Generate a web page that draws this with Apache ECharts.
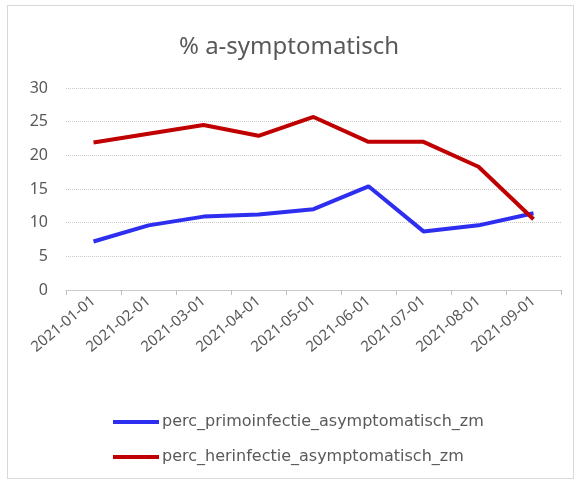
<!DOCTYPE html>
<html>
<head>
<meta charset="utf-8">
<script src="https://cdn.jsdelivr.net/npm/echarts@6/dist/echarts.min.js"></script>
<style>
  body { margin: 0; background: #fff; }
  #chart { position: absolute; left: 0; top: 0; width: 578px; height: 482px; }
  #frame { position: absolute; left: 7px; top: 5px; width: 565px; height: 472px;
           border: 1px solid #d9d9d9; pointer-events: none; }
</style>
</head>
<body>
<div id="chart"></div>
<div id="frame"></div>
<script>
var months = ['2021-01-01', '2021-02-01', '2021-03-01', '2021-04-01', '2021-05-01',
              '2021-06-01', '2021-07-01', '2021-08-01', '2021-09-01'];
var primo = [7.2, 9.6, 10.9, 11.2, 12.0, 15.4, 8.7, 9.6, 11.4];
var herinf = [21.9, 23.2, 24.5, 22.9, 25.7, 22.0, 22.0, 18.3, 10.5];

var grey = '#595959';
var font = 'Noto Sans';

var chart = echarts.init(document.getElementById('chart'));
chart.setOption({
  animation: false,
  title: {
    text: '% a-symptomatisch',
    left: 'center',
    top: 30,
    textStyle: { color: grey, fontSize: 24, fontWeight: 'normal', fontFamily: font }
  },
  legend: {
    orient: 'vertical',
    left: 108,
    top: 409,
    itemWidth: 46,
    itemHeight: 4,
    itemGap: 19,
    icon: 'rect',
    textStyle: { color: grey, fontSize: 16, fontFamily: 'DejaVu Sans', padding: [0, 0, 0, -2] },
    data: ['perc_primoinfectie_asymptomatisch_zm', 'perc_herinfectie_asymptomatisch_zm']
  },
  grid: { left: 66, right: 17, top: 88, bottom: 192 },
  xAxis: {
    type: 'category',
    data: months,
    boundaryGap: true,
    axisLine: { lineStyle: { color: '#bfbfbf', type: 'dotted' } },
    axisTick: { show: true, length: 5, lineStyle: { color: '#bfbfbf' } },
    axisLabel: { rotate: 40, color: grey, fontSize: 15, fontFamily: font, margin: 9, interval: 0 }
  },
  yAxis: {
    type: 'value',
    min: 0,
    max: 30,
    interval: 5,
    axisLine: { show: false },
    axisTick: { show: false },
    axisLabel: { color: grey, fontSize: 16, fontFamily: font, margin: 18 },
    splitLine: { lineStyle: { color: '#c8c8c8', type: 'dotted' } }
  },
  series: [
    {
      name: 'perc_primoinfectie_asymptomatisch_zm',
      type: 'line',
      data: primo,
      symbol: 'none',
      color: '#2e2ef0',
      lineStyle: { width: 4, color: '#2e2ef0' }
    },
    {
      name: 'perc_herinfectie_asymptomatisch_zm',
      type: 'line',
      data: herinf,
      symbol: 'none',
      color: '#c00000',
      lineStyle: { width: 4, color: '#c00000' }
    }
  ]
});
</script>
</body>
</html>
